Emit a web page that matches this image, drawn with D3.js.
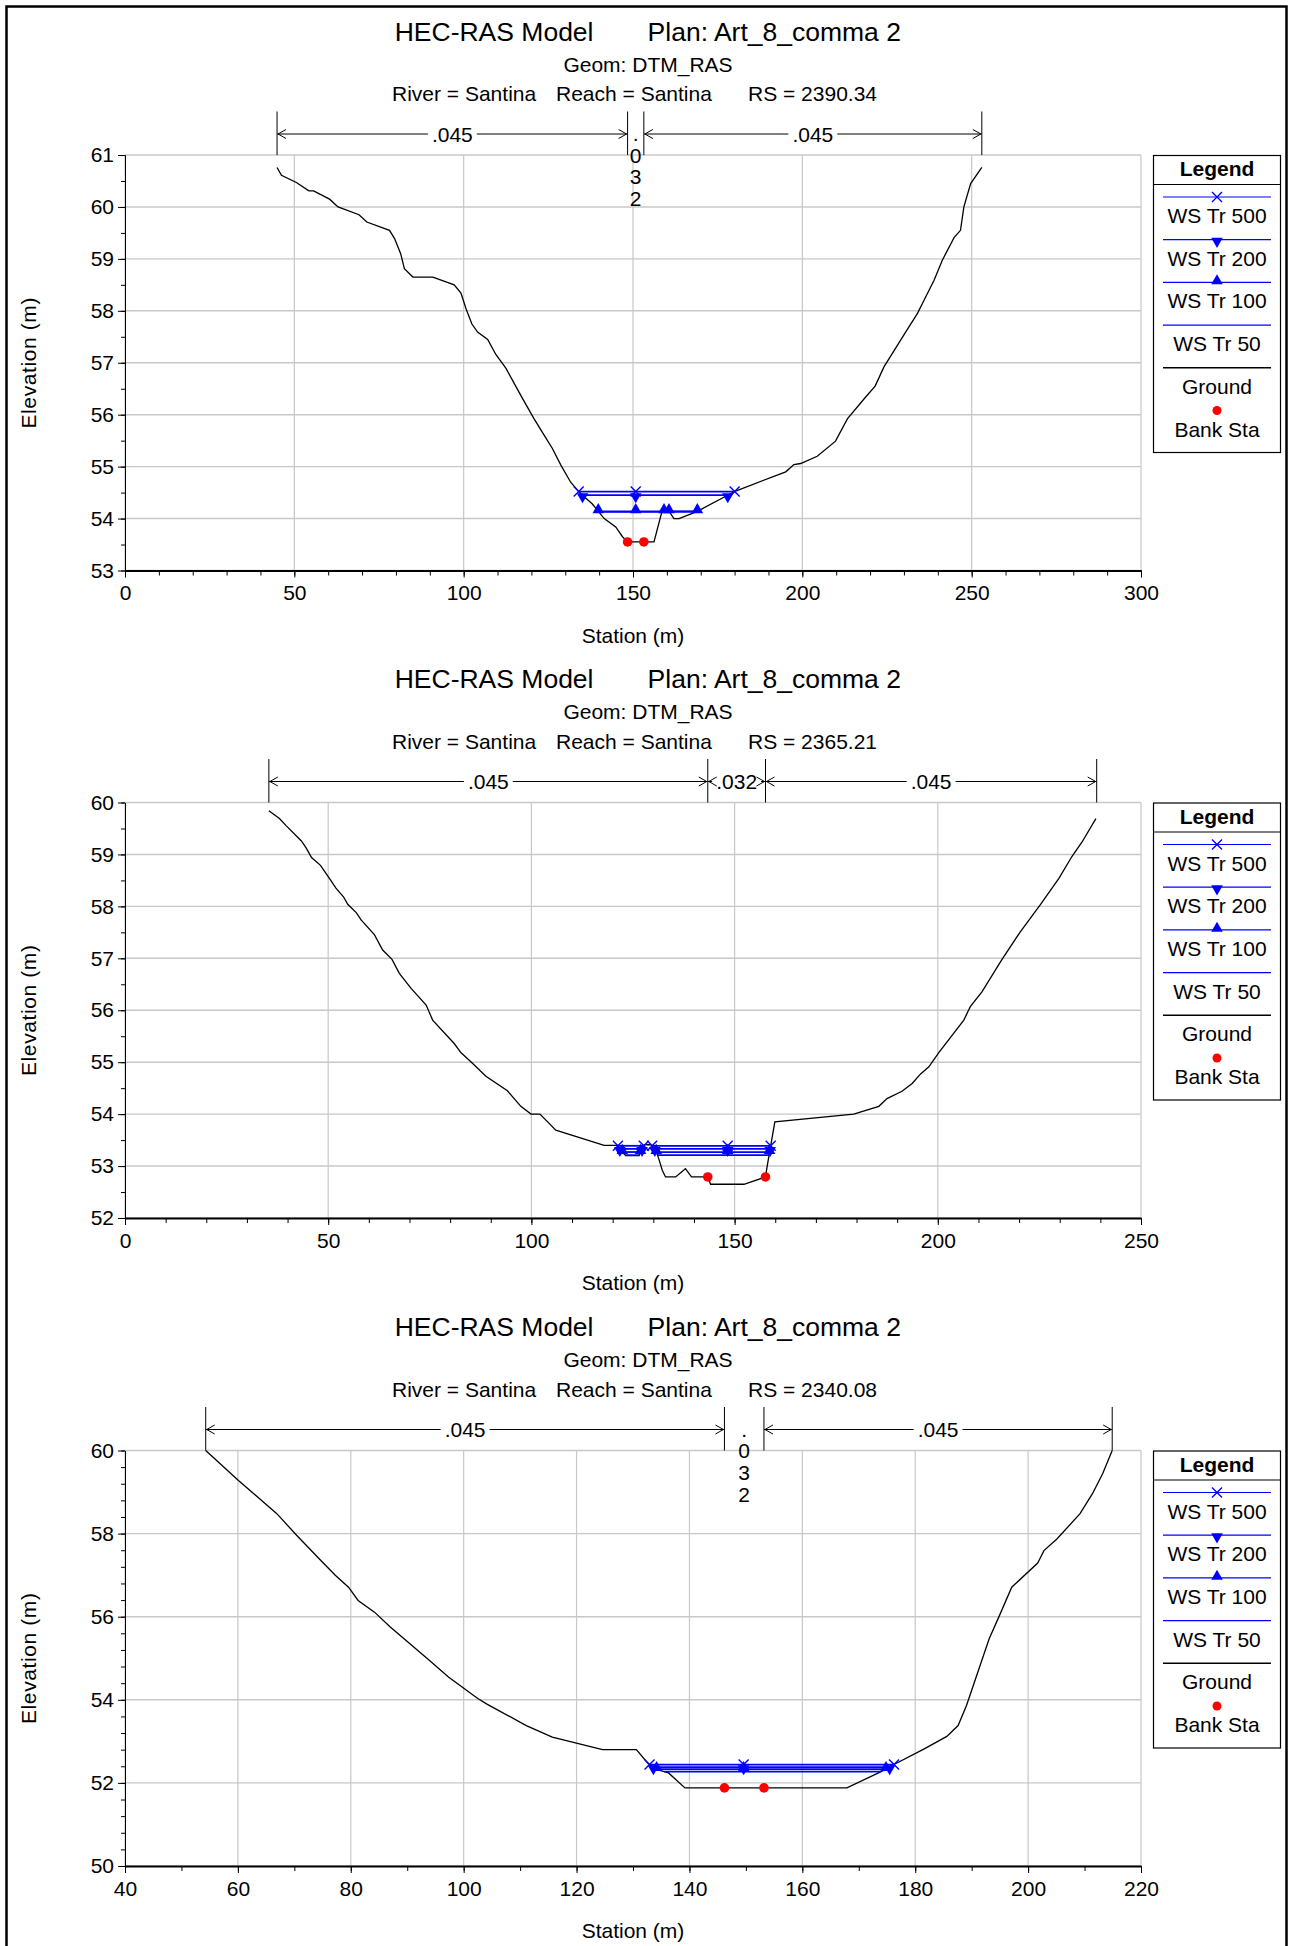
<!DOCTYPE html>
<html>
<head>
<meta charset="utf-8">
<script src="https://cdn.jsdelivr.net/npm/d3@7"></script>
<style>
body { margin: 0; background: #fff; }
svg { display: block; font-family: 'Liberation Sans', Arial, sans-serif; }
</style>
</head>
<body>
<svg id="chart" width="1292" height="1946"></svg>
<script>
const wsNames = ['WS Tr 500', 'WS Tr 200', 'WS Tr 100', 'WS Tr 50'];
const nValues = ['.045', '.032', '.045'];

// RS 2390.34
const rs1Ground = [[44.9, 60.76], [46.2, 60.61], [50.6, 60.47], [54.3, 60.31], [55.7, 60.31], [60.4, 60.15],
  [62.9, 60.0], [69.1, 59.85], [71.4, 59.71], [78.1, 59.55], [79.6, 59.39], [81.4, 59.10], [82.5, 58.81],
  [85.0, 58.65], [90.9, 58.65], [97.2, 58.50], [99.2, 58.34], [100.7, 58.04], [102.4, 57.75], [104.1, 57.59],
  [107.1, 57.45], [109.5, 57.16], [112.5, 56.89], [117.4, 56.31], [120.8, 55.92], [123.8, 55.60], [126.2, 55.35],
  [128.7, 55.03], [131.6, 54.70], [134.1, 54.51], [135.6, 54.42], [138.0, 54.28], [141.5, 54.00], [144.9, 53.84],
  [146.9, 53.65], [148.4, 53.55], [153.2, 53.55], [156.2, 53.55], [158.4, 54.10], [160.1, 54.19], [162.1, 54.0],
  [163.6, 54.0], [169.0, 54.14], [180.3, 54.53], [195.1, 54.90], [197.5, 55.04], [199.5, 55.06], [204.4, 55.20],
  [209.8, 55.49], [213.3, 55.92], [218.7, 56.34], [221.5, 56.55], [224.1, 56.92], [230.5, 57.59], [234.0, 57.95],
  [235.9, 58.20], [238.9, 58.59], [241.3, 58.97], [244.8, 59.41], [246.7, 59.55], [247.7, 60.0], [249.7, 60.45],
  [253.0, 60.76]];
const rs1WS = [54.52, 54.45, 54.14, 54.13];
const rs1Banks = [[148.4, 53.55], [153.2, 53.55]];
const rs1NSta = [44.9, 148.4, 153.2, 253.0];
const rs1Mid = 150.8;

// RS 2365.21
const rs2Ground = [[35.4, 59.84], [38.0, 59.69], [39.7, 59.55], [43.4, 59.26], [44.6, 59.12], [45.9, 58.94],
  [48.1, 58.79], [50.3, 58.54], [51.9, 58.35], [53.8, 58.18], [54.8, 58.04], [56.9, 57.88], [58.1, 57.74],
  [61.4, 57.45], [63.4, 57.16], [65.7, 56.98], [67.5, 56.71], [70.4, 56.42], [74.1, 56.10], [75.7, 55.81],
  [81.0, 55.36], [82.7, 55.18], [85.5, 54.98], [88.8, 54.73], [94.1, 54.45], [97.4, 54.15], [99.9, 54.0],
  [102.1, 54.0], [104.0, 53.85], [106.0, 53.69], [117.9, 53.40], [121.2, 53.40], [122.0, 53.30], [123.2, 53.20],
  [126.5, 53.20], [127.0, 53.30], [127.8, 53.41], [129.4, 53.41], [130.2, 53.36], [131.0, 53.22], [131.5, 53.10],
  [132.2, 52.92], [133.0, 52.79], [135.5, 52.79], [137.9, 52.95], [139.4, 52.79], [143.4, 52.79], [144.1, 52.65],
  [152.3, 52.65], [157.6, 52.79], [158.0, 52.99], [159.9, 53.85], [179.3, 54.0], [185.5, 54.15], [187.5, 54.30],
  [191.2, 54.44], [193.7, 54.59], [195.7, 54.77], [197.8, 54.91], [200.2, 55.18], [206.4, 55.81], [208.0, 56.07],
  [210.9, 56.36], [215.8, 56.98], [220.3, 57.51], [225.2, 58.03], [229.8, 58.54], [233.0, 58.96], [235.5, 59.24],
  [238.9, 59.69]];
const rs2WS = [53.39, 53.33, 53.27, 53.21];
const rs2Banks = [[143.4, 52.79], [157.6, 52.79]];
const rs2NSta = [35.4, 143.4, 157.6, 239.1];
const rs2Mid = 148.3;

// RS 2340.08
const rs3Ground = [[54.3, 60.0], [60.1, 59.28], [66.9, 58.48], [70.4, 57.96], [75.0, 57.31], [77.3, 56.99],
  [79.6, 56.71], [81.3, 56.39], [84.2, 56.11], [87.0, 55.75], [93.9, 54.95], [97.3, 54.55], [102.5, 54.03],
  [104.2, 53.89], [111.1, 53.38], [115.7, 53.10], [124.6, 52.80], [130.6, 52.80], [132.7, 52.46], [134.3, 52.32],
  [136.3, 52.24], [139.2, 51.88], [146.2, 51.88], [153.2, 51.88], [167.9, 51.88], [174.7, 52.32], [176.5, 52.46],
  [181.6, 52.82], [185.6, 53.12], [187.6, 53.38], [189.1, 53.87], [190.8, 54.55], [193.1, 55.47], [194.8, 55.99],
  [197.1, 56.71], [201.7, 57.29], [202.8, 57.59], [205.1, 57.87], [209.2, 58.48], [211.4, 58.96], [213.2, 59.44],
  [214.9, 60.0]];
const rs3WS = [52.44, 52.38, 52.33, 52.27];
const rs3Banks = [[146.2, 51.88], [153.2, 51.88]];
const rs3NSta = [54.3, 146.2, 153.2, 214.9];
const rs3Mid = 149.6;

const panels = [
  { rs: '2390.34', ground: rs1Ground, ws: rs1WS, banks: rs1Banks, nSta: rs1NSta, mid: rs1Mid,
    x: [0, 300], xMajor: 50, xMinor: 10, y: [53, 61], yMajor: 1, yMinor: 0.5 },
  { rs: '2365.21', ground: rs2Ground, ws: rs2WS, banks: rs2Banks, nSta: rs2NSta, mid: rs2Mid,
    x: [0, 250], xMajor: 50, xMinor: 10, y: [52, 60], yMajor: 1, yMinor: 0.5 },
  { rs: '2340.08', ground: rs3Ground, ws: rs3WS, banks: rs3Banks, nSta: rs3NSta, mid: rs3Mid,
    x: [40, 220], xMajor: 20, xMinor: 10, y: [50, 60], yMajor: 2, yMinor: 0.4 },
];

const svg = d3.select('#chart');
const plotLeft = 125;
const plotRight = 1141;
const plotH = 415.5;
const panelTops = [155, 802.5, 1450.5];
const blue = '#0000ff';
const grid = '#c8c8c8';

svg.append('rect')
  .attr('x', 6.5).attr('y', 6.5)
  .attr('width', 1280).attr('height', 1980)
  .attr('fill', 'none').attr('stroke', '#000').attr('stroke-width', 2.5);

const steps = (d, step) => d3.range(Math.round((d[1] - d[0]) / step) + 1).map(i => +(d[0] + i * step).toFixed(3));

const xMarker = 'M-5,-5L5,5M-5,5L5,-5';
const triangle = d3.symbol(d3.symbolTriangle, 58)();

function drawMarker(g, kind, px, py) {
  if (kind === 0) {
    g.append('path').attr('d', xMarker).attr('transform', `translate(${px},${py})`)
      .attr('stroke', blue).attr('stroke-width', 1.4).attr('fill', 'none');
  } else if (kind === 1) {
    g.append('path').attr('d', triangle).attr('transform', `translate(${px},${py + 1.5}) rotate(180)`)
      .attr('fill', blue);
  } else if (kind === 2) {
    g.append('path').attr('d', triangle).attr('transform', `translate(${px},${py - 1.5})`)
      .attr('fill', blue);
  }
}

// water surface pieces where the ground is below the level
function wetSegments(ground, level) {
  const segs = [];
  let start = null;
  for (let i = 0; i < ground.length - 1; i++) {
    const [s0, e0] = ground[i];
    const [s1, e1] = ground[i + 1];
    if (e0 >= level && e1 < level) {
      start = s0 + (level - e0) / (e1 - e0) * (s1 - s0);
    } else if (e0 < level && e1 >= level && start !== null) {
      segs.push([start, s0 + (level - e0) / (e1 - e0) * (s1 - s0)]);
      start = null;
    }
  }
  return segs;
}

panels.forEach((p, k) => {
  const top = panelTops[k];
  const off = top - 155;
  const bottom = top + plotH;
  const g = svg.append('g');

  const x = d3.scaleLinear().domain(p.x).range([plotLeft, plotRight]);
  const y = d3.scaleLinear().domain(p.y).range([bottom, top]);

  // titles
  const t = g.append('g').attr('fill', '#000');
  t.append('text').attr('x', 394.7).attr('y', off + 40.5).attr('font-size', 26.5).text('HEC-RAS Model');
  t.append('text').attr('x', 647.6).attr('y', off + 40.5).attr('font-size', 26.5).text('Plan: Art_8_comma 2');
  t.append('text').attr('x', 648).attr('y', off + 71.5).attr('font-size', 21)
    .attr('text-anchor', 'middle').text('Geom: DTM_RAS');
  t.append('text').attr('x', 392).attr('y', off + 101).attr('font-size', 21).text('River = Santina');
  t.append('text').attr('x', 556).attr('y', off + 101).attr('font-size', 21).text('Reach = Santina');
  t.append('text').attr('x', 748).attr('y', off + 101).attr('font-size', 21).text(`RS = ${p.rs}`);

  // grid
  const xMaj = steps(p.x, p.xMajor);
  const yMaj = steps(p.y, p.yMajor);
  g.append('g').selectAll('line').data(xMaj).join('line')
    .attr('x1', d => x(d)).attr('x2', d => x(d)).attr('y1', top).attr('y2', bottom)
    .attr('stroke', grid).attr('stroke-width', 1.2);
  g.append('g').selectAll('line').data(yMaj).join('line')
    .attr('x1', plotLeft).attr('x2', plotRight).attr('y1', d => y(d)).attr('y2', d => y(d))
    .attr('stroke', grid).attr('stroke-width', 1.4);

  // axes
  const axY = g.append('g').attr('transform', `translate(${plotLeft},0)`)
    .call(d3.axisLeft(y).tickValues(yMaj).tickSize(7).tickSizeOuter(0).tickPadding(4).tickFormat(d3.format('d')));
  g.append('g').attr('transform', `translate(${plotLeft},0)`)
    .call(d3.axisLeft(y).tickValues(steps(p.y, p.yMinor)).tickSize(4).tickSizeOuter(0).tickFormat(''));
  const axX = g.append('g').attr('transform', `translate(0,${bottom})`)
    .call(d3.axisBottom(x).tickValues(xMaj).tickSize(7).tickSizeOuter(0).tickPadding(8).tickFormat(d3.format('d')));
  g.append('g').attr('transform', `translate(0,${bottom})`)
    .call(d3.axisBottom(x).tickValues(steps(p.x, p.xMinor)).tickSize(5).tickSizeOuter(0).tickFormat(''));
  axX.select('.domain').attr('stroke-width', 2);
  [axY, axX].forEach(a => a.selectAll('text')
    .attr('font-size', 21).attr('font-family', "'Liberation Sans', Arial, sans-serif").attr('fill', '#000'));

  g.append('text')
    .attr('x', (plotLeft + plotRight) / 2).attr('y', bottom + 72)
    .attr('text-anchor', 'middle').attr('font-size', 21).text('Station (m)');
  g.append('text')
    .attr('transform', `translate(36,${(top + bottom) / 2}) rotate(-90)`)
    .attr('text-anchor', 'middle').attr('font-size', 21).attr('letter-spacing', 0.6)
    .text('Elevation (m)');

  // manning's n
  const ay = top - 21;
  const mn = g.append('g');
  mn.selectAll('line').data(p.nSta).join('line')
    .attr('x1', d => x(d)).attr('x2', d => x(d)).attr('y1', top - 43.5).attr('y2', top)
    .attr('stroke', '#000').attr('stroke-width', 1);
  nValues.forEach((v, i) => {
    const x0 = x(p.nSta[i]);
    const x1 = x(p.nSta[i + 1]);
    const cx = (x0 + x1) / 2;
    const probe = mn.append('text').attr('font-size', 21).text(v);
    const tw = probe.node().getComputedTextLength();
    probe.remove();
    if (x1 - x0 < tw + 8) {
      mn.selectAll(null).data(v.split('')).join('text')
        .attr('x', cx).attr('y', (d, j) => ay + 7 + j * 21.7)
        .attr('text-anchor', 'middle').attr('font-size', 21).text(d => d);
      return;
    }
    mn.append('line').attr('x1', x0).attr('x2', x1).attr('y1', ay).attr('y2', ay)
      .attr('stroke', '#000').attr('stroke-width', 1);
    mn.append('rect').attr('x', cx - tw / 2 - 4).attr('y', ay - 10).attr('width', tw + 8).attr('height', 18)
      .attr('fill', '#fff');
    mn.append('path')
      .attr('d', `M${x0 + 9},${ay - 4.5}L${x0 + 1},${ay}L${x0 + 9},${ay + 4.5}M${x1 - 9},${ay - 4.5}L${x1 - 1},${ay}L${x1 - 9},${ay + 4.5}`)
      .attr('fill', 'none').attr('stroke', '#000').attr('stroke-width', 1);
    mn.append('text').attr('x', cx).attr('y', ay + 7.5).attr('text-anchor', 'middle')
      .attr('font-size', 21).text(v);
  });

  // ground
  const line = d3.line().x(d => x(d[0])).y(d => y(d[1]));
  g.append('path').datum(p.ground).attr('d', line)
    .attr('fill', 'none').attr('stroke', '#000').attr('stroke-width', 1.3);

  // water surfaces, lowest first
  const wsG = g.append('g');
  d3.range(p.ws.length - 1, -1, -1).forEach(i => {
    const level = p.ws[i];
    const segs = wetSegments(p.ground, level);
    segs.forEach(s => {
      wsG.append('line').attr('x1', x(s[0])).attr('x2', x(s[1]))
        .attr('y1', y(level)).attr('y2', y(level))
        .attr('stroke', blue).attr('stroke-width', 1.8);
    });
    segs.forEach(s => {
      const pts = [s[0], s[1]];
      if (p.mid > s[0] && p.mid < s[1]) pts.push(p.mid);
      pts.forEach(st => drawMarker(wsG, i, x(st), y(level)));
    });
  });

  g.append('g').selectAll('circle').data(p.banks).join('circle')
    .attr('cx', d => x(d[0])).attr('cy', d => y(d[1])).attr('r', 4.8)
    .attr('fill', '#ff0000');

  // legend
  const lg = g.append('g').attr('transform', `translate(1153,${top})`);
  const lx = 64;
  lg.append('rect').attr('x', 0.5).attr('y', 0.5).attr('width', 127).attr('height', 297)
    .attr('fill', '#fff').attr('stroke', '#000').attr('stroke-width', 1.2);
  lg.append('line').attr('x1', 0.5).attr('x2', 127.5).attr('y1', 29.5).attr('y2', 29.5)
    .attr('stroke', '#000').attr('stroke-width', 1.2);
  lg.append('text').attr('x', lx).attr('y', 21).attr('text-anchor', 'middle')
    .attr('font-size', 21).attr('font-weight', 'bold').text('Legend');
  const items = [...wsNames, 'Ground', 'Bank Sta'];
  items.forEach((name, i) => {
    const ly = 42 + i * 42.7;
    if (i < 5) {
      lg.append('line').attr('x1', 10).attr('x2', 118).attr('y1', ly).attr('y2', ly)
        .attr('stroke', i < 4 ? blue : '#000').attr('stroke-width', i < 4 ? 1.2 : 1.5);
      if (i < 3) drawMarker(lg, i, lx, ly);
    } else {
      lg.append('circle').attr('cx', lx).attr('cy', ly).attr('r', 4.5).attr('fill', '#ff0000');
    }
    lg.append('text').attr('x', lx).attr('y', 68 + i * 42.7).attr('text-anchor', 'middle')
      .attr('font-size', 21).text(name);
  });
});
</script>
</body>
</html>
